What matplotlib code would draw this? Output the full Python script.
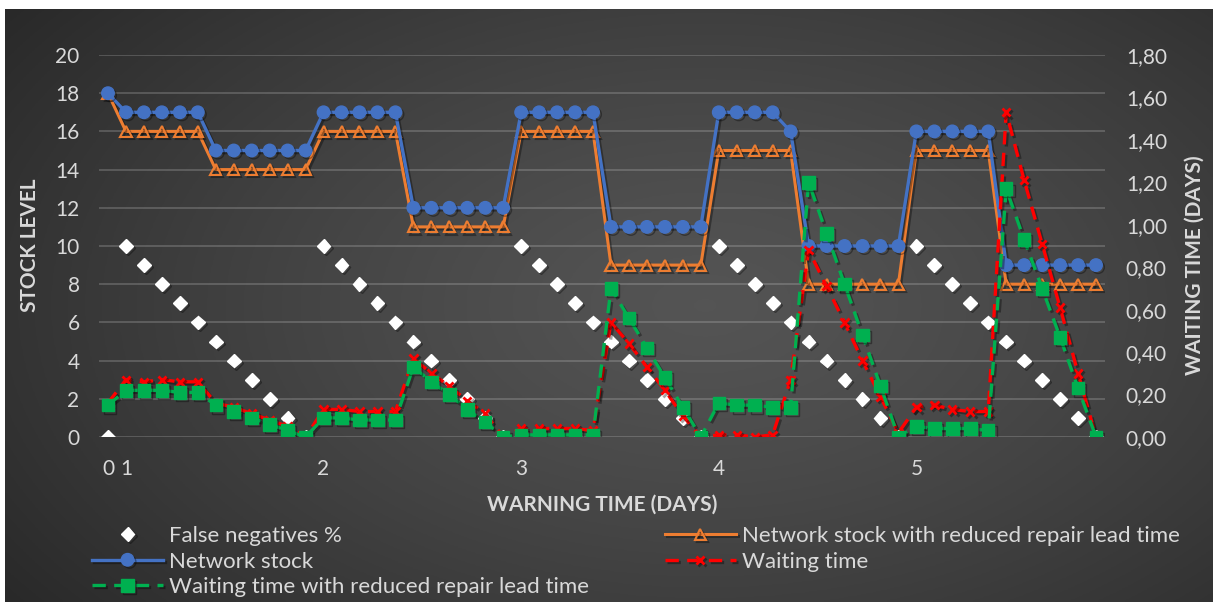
import numpy as np
import matplotlib
matplotlib.use('Agg')
import matplotlib.pyplot as plt
import matplotlib.patheffects as pe
from matplotlib.ticker import FuncFormatter

plt.rcParams['font.family'] = ['Lato', 'DejaVu Sans']

# one category per simulated warning-time step
false_negatives = [0,
                   10, 9, 8, 7, 6, 5, 4, 3, 2, 1, 0,
                   10, 9, 8, 7, 6, 5, 4, 3, 2, 1, 0,
                   10, 9, 8, 7, 6, 5, 4, 3, 2, 1, 0,
                   10, 9, 8, 7, 6, 5, 4, 3, 2, 1, 0,
                   10, 9, 8, 7, 6, 5, 4, 3, 2, 1, 0]
network_stock = [18,
                 17, 17, 17, 17, 17, 15, 15, 15, 15, 15, 15,
                 17, 17, 17, 17, 17, 12, 12, 12, 12, 12, 12,
                 17, 17, 17, 17, 17, 11, 11, 11, 11, 11, 11,
                 17, 17, 17, 17, 16, 10, 10, 10, 10, 10, 10,
                 16, 16, 16, 16, 16, 9, 9, 9, 9, 9, 9]
network_stock_reduced = [18,
                         16, 16, 16, 16, 16, 14, 14, 14, 14, 14, 14,
                         16, 16, 16, 16, 16, 11, 11, 11, 11, 11, 11,
                         16, 16, 16, 16, 16, 9, 9, 9, 9, 9, 9,
                         15, 15, 15, 15, 15, 8, 8, 8, 8, 8, 8,
                         15, 15, 15, 15, 15, 8, 8, 8, 8, 8, 8]
waiting_time = [0.16,
                0.27, 0.26, 0.27, 0.26, 0.26, 0.16, 0.14, 0.11, 0.08, 0.05, 0.00,
                0.13, 0.13, 0.12, 0.12, 0.12, 0.37, 0.30, 0.24, 0.17, 0.11, 0.00,
                0.04, 0.04, 0.04, 0.04, 0.03, 0.54, 0.44, 0.33, 0.22, 0.10, 0.00,
                0.01, 0.01, 0.00, 0.01, 0.27, 0.88, 0.71, 0.54, 0.36, 0.19, 0.02,
                0.14, 0.15, 0.13, 0.12, 0.12, 1.53, 1.21, 0.91, 0.61, 0.30, 0.00]
waiting_time_reduced = [0.15,
                        0.22, 0.22, 0.22, 0.21, 0.21, 0.15, 0.12, 0.09, 0.06, 0.03, 0.00,
                        0.09, 0.09, 0.08, 0.08, 0.08, 0.33, 0.26, 0.20, 0.13, 0.07, 0.00,
                        0.01, 0.01, 0.01, 0.01, 0.01, 0.70, 0.56, 0.42, 0.28, 0.14, 0.00,
                        0.16, 0.15, 0.15, 0.14, 0.14, 1.20, 0.96, 0.72, 0.48, 0.24, 0.00,
                        0.05, 0.04, 0.04, 0.04, 0.03, 1.17, 0.93, 0.70, 0.47, 0.23, 0.00]
day_ticks = [0, 1, 12, 23, 34, 45]
day_labels = ['0', '1', '2', '3', '4', '5']

x = np.arange(len(network_stock))
txt = '#d9d9d9'

fig = plt.figure(figsize=(12.13, 6.02), dpi=100, facecolor='white')

# dark radial background
bg = fig.add_axes([5 / 1213, 0, 1 - 5 / 1213, 1 - 9 / 602])
gx, gy = np.meshgrid(np.linspace(0, 1, 400), np.linspace(0, 1, 200))
r = np.sqrt(((gx - 0.58) / 0.75) ** 2 + ((gy - 0.5) / 0.9) ** 2)
r = np.clip(r, 0, 1)
shade = 0.33 - 0.18 * r ** 1.3
bg.imshow(np.dstack([shade] * 3), aspect='auto', extent=[0, 1, 0, 1], origin='upper')
bg.set_axis_off()

ax = fig.add_axes([99 / 1213, 1 - 437 / 602, 1006 / 1213, 382 / 602])
ax.patch.set_alpha(0)
ax2 = ax.twinx()
ax2.patch.set_alpha(0)

shadow = [pe.SimpleLineShadow(offset=(1.5, -1.5), shadow_color='black', alpha=0.35), pe.Normal()]

h_fn, = ax.plot(x, false_negatives, linestyle='none', marker='D', color='white',
                markersize=7, label='False negatives %', path_effects=shadow, zorder=2)
h_red_stock, = ax.plot(x, network_stock_reduced, color='#ED7D31', lw=2.2, marker='^',
                       markersize=8, markerfacecolor='none', markeredgewidth=1.5,
                       label='Network stock with reduced repair lead time', path_effects=shadow, zorder=3)
h_stock, = ax.plot(x, network_stock, color='#4472C4', lw=2.4, marker='o', markersize=9,
                   label='Network stock', path_effects=shadow, zorder=4)

h_wait, = ax2.plot(x, waiting_time, color='#FF0000', lw=2.4, dashes=(4, 2.5), marker='x',
                   markersize=6, markeredgewidth=2, label='Waiting time',
                   path_effects=shadow, zorder=3)
h_wait_red, = ax2.plot(x, waiting_time_reduced, color='#00B050', lw=2.4, dashes=(4, 2.5), marker='s',
                       markersize=9, label='Waiting time with reduced repair lead time',
                       path_effects=shadow, zorder=4)

ax.set_xlim(-0.5, len(x) - 0.5)
ax.set_ylim(0, 20)
ax.set_yticks(np.arange(0, 21, 2))
ax2.set_ylim(0, 1.8)
ax2.set_yticks(np.arange(0, 1.81, 0.2))
ax2.yaxis.set_major_formatter(FuncFormatter(lambda v, p: f'{v:.2f}'.replace('.', ',')))
ax.set_xticks(day_ticks)
ax.set_xticklabels(day_labels)

ax.grid(axis='y', color='#d9d9d9', alpha=0.22, lw=1.4)
ax.set_axisbelow(True)
for a in (ax, ax2):
    for s in a.spines.values():
        s.set_visible(False)
ax.tick_params(axis='y', length=0, pad=14, labelsize=15, labelcolor=txt)
ax.tick_params(axis='x', length=0, pad=16, labelsize=15, labelcolor=txt)
ax2.tick_params(axis='y', length=0, pad=15, labelsize=15, labelcolor=txt)

fig.text(30 / 1213, 1 - 245 / 602, 'STOCK LEVEL', rotation=90, ha='center', va='center',
         color=txt, fontsize=15, fontweight='bold')
fig.text(1195 / 1213, 1 - 265 / 602, 'WAITING TIME (DAYS)', rotation=90, ha='center', va='center',
         color=txt, fontsize=15, fontweight='bold')
fig.text(602 / 1213, 1 - 505 / 602, 'WARNING TIME (DAYS)', ha='center', va='center',
         color=txt, fontsize=15, fontweight='bold')

handles = [h_fn, h_stock, h_wait_red, h_red_stock, h_wait]
leg = fig.legend(handles=handles, labels=[h.get_label() for h in handles], ncol=2,
                 loc='upper left', bbox_to_anchor=(92 / 1213, 1 - 526 / 602), frameon=False,
                 fontsize=16, labelcolor=txt, handlelength=3.2, handletextpad=0.27,
                 columnspacing=3.4, labelspacing=0.25, borderpad=0, borderaxespad=0)

fig.savefig('out.png', dpi=100, facecolor='white')
